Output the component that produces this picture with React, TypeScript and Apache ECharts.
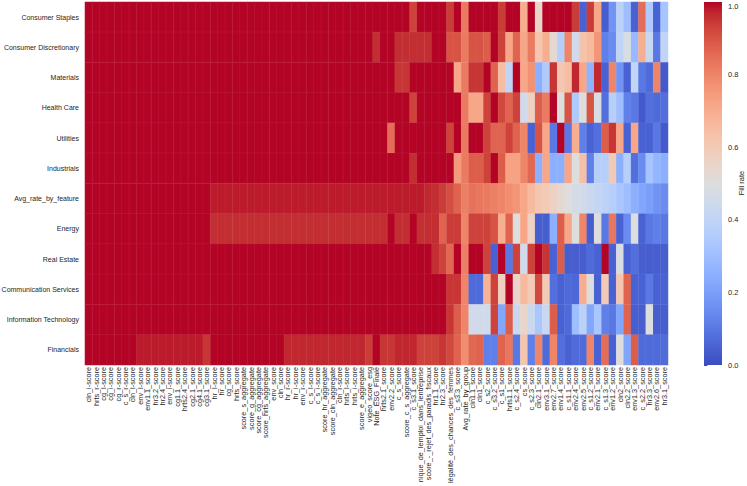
import React, { useEffect, useRef } from "react";
import * as echarts from "echarts";

const features = [
  "cln_i-score", "hrts_r-score", "cg_l-score", "cg_i-score", "cg_r-score", "c_s_r-score", "cln_l-score", "env_l-score", "env1.1_score", "hr3.2_score",
  "hr2.4_score", "env_i-score", "cg1.1_score", "hrts2.4_score", "cg2.1_score", "cg4.1_score", "cg3.1_score", "hr_l-score", "hr_score", "cg_score",
  "hrts_score", "score_s_aggregate", "score_g_aggregate", "score_cg_aggregate", "score_hrts_aggregate", "env_score", "cln_score", "hr_r-score", "hr_i-score", "env_r-score",
  "c_s_l-score", "c_s_i-score", "score_hr_aggregate", "score_cln_aggregate", "cln_r-score", "hrts_l-score", "hrts_i-score", "score_e_aggregate", "vigeo_score_esg", "Note_ESG_Finale",
  "hrts2.1_score", "env2.2_score", "c_s_score", "score_c_s_aggregate", "c_s3.1_score", "nique_de_lemploi_dans_lentreprise", "score_-_rejet_des_paradis_fiscaux", "hr1.1_score", "hr2.3_score", "légalité_des_chances_des_femmes",
  "c_s3.3_score", "Avg_rate_by_group", "cln1.1_score", "cln1_score", "c_s2_score", "c_s3.2_score", "c_s1_score", "hrts1.1_score", "c_s2.4_score", "cs_score",
  "c_s2.3_score", "cln2.1_score", "env3.1_score", "env2.7_score", "env1.4_score", "c_s1.1_score", "env2.4_score", "env2.5_score", "c_s1.2_score", "env2.1_score",
  "c_s1.3_score", "env1.2_score", "cln2_score", "cln2.2_score", "env1.3_score", "c_s2.2_score", "hr3.3_score", "env2.6_score", "hr3.1_score",
];

const sectors = [
  "Consumer Staples", "Consumer Discretionary", "Materials", "Health Care", "Utilities", "Industrials",
  "Avg_rate_by_feature", "Energy", "Real Estate", "Communication Services", "Information Technology", "Financials",
];

const consumerStaples = [
  1,1,1,1,1,1,1,1,1,1,
  1,1,1,1,1,1,1,1,1,1,
  1,1,1,1,1,1,1,1,1,1,
  1,1,1,1,1,1,1,1,1,1,
  1,1,1,1,0.93,1,1,1,1,0.94,
  1,0.82,1,1,1,1,0.94,1,1,0.7,
  1,0.55,1,1,1,1,0.94,0.05,0.94,0.72,
  0.04,0.17,0.38,0.3,0.05,0.85,0.35,0.05,0.32,
];
const consumerDiscretionary = [
  1,1,1,1,1,1,1,1,1,1,
  1,1,1,1,1,1,1,1,1,1,
  1,1,1,1,1,1,1,1,1,1,
  1,1,1,1,1,1,1,1,1,0.96,
  1,1,0.96,0.96,0.96,0.96,0.96,1,1,0.9,
  0.9,0.82,0.9,0.9,0.88,1,0.93,0.72,0.87,0.72,
  0.82,0.62,0.7,0.53,0.37,0.8,0.45,0.63,0.66,0.76,
  0.12,0.15,0.4,0.48,0.28,0.7,0.42,0.1,0.4,
];
const materials = [
  1,1,1,1,1,1,1,1,1,1,
  1,1,1,1,1,1,1,1,1,1,
  1,1,1,1,1,1,1,1,1,1,
  1,1,1,1,1,1,1,1,1,1,
  1,1,0.95,0.95,1,1,1,1,1,1,
  0.72,0.82,0.95,0.95,1,0.87,0.65,0.4,1,0.72,
  0.77,0.25,0.35,0.95,0.62,0.65,0.97,0.72,0.26,0.97,
  0.05,0.8,0.17,0.05,0.4,0.1,0.07,0.8,0.03,
];
const healthCare = [
  1,1,1,1,1,1,1,1,1,1,
  1,1,1,1,1,1,1,1,1,1,
  1,1,1,1,1,1,1,1,1,1,
  1,1,1,1,1,1,1,1,1,1,
  1,1,1,1,0.93,1,1,1,1,1,
  1,0.82,0.72,0.72,0.93,1,0.92,0.87,0.93,0.45,
  0.57,0.88,0.82,1,0.5,0.9,0.35,0.5,0.9,0.48,
  0.08,0.37,0.3,0.12,0.1,0.03,0.08,0.07,0.08,
];
const utilities = [
  1,1,1,1,1,1,1,1,1,1,
  1,1,1,1,1,1,1,1,1,1,
  1,1,1,1,1,1,1,1,1,1,
  1,1,1,1,1,1,1,1,1,1,
  1,0.85,1,1,1,1,1,1,1,0.93,
  1,0.82,1,1,0.93,0.87,0.87,0.93,0.87,0.8,
  0.05,0.9,0.72,0.1,1,0.1,0.7,0.12,0.05,0.08,
  0.88,0.95,0.72,0.05,0.72,0.05,0.05,0.1,0.03,
];
const industrials = [
  1,1,1,1,1,1,1,1,1,1,
  1,1,1,1,1,1,1,1,1,1,
  1,1,1,1,1,1,1,1,1,1,
  1,1,1,1,1,1,1,1,1,1,
  1,1,1,1,0.96,1,1,1,1,1,
  0.75,0.82,0.88,0.88,0.93,1,0.88,0.73,0.73,0.8,
  0.86,0.25,0.72,0.25,0.25,0.72,0.5,0.64,0.12,0.37,
  0.37,0.6,0.25,0.37,0.08,0.15,0.32,0.27,0.25,
];
const avgRateByFeature = [
  1,1,1,1,1,1,1,1,1,1,
  1,1,1,1,1,1,1,0.98,0.98,0.98,
  0.98,0.98,0.98,0.98,0.98,0.98,0.98,0.98,0.98,0.98,
  0.98,0.98,0.98,0.98,0.98,0.98,0.98,0.98,0.98,0.98,
  0.98,0.98,0.98,0.98,0.98,0.98,0.97,0.96,0.94,0.91,
  0.87,0.81,0.84,0.83,0.82,0.81,0.8,0.78,0.76,0.72,
  0.66,0.62,0.6,0.57,0.53,0.5,0.47,0.45,0.43,0.41,
  0.39,0.37,0.33,0.3,0.25,0.22,0.2,0.17,0.15,
];
const energy = [
  1,1,1,1,1,1,1,1,1,1,
  1,1,1,1,1,1,1,0.96,0.96,0.96,
  0.96,0.96,0.96,0.96,0.96,0.96,0.96,0.96,0.96,0.96,
  0.96,0.96,0.96,0.96,0.96,0.96,0.96,0.96,0.96,0.96,
  0.96,1,0.96,0.96,1,0.96,0.96,0.96,0.87,0.94,
  0.94,0.8,0.93,0.93,0.93,0.9,0.7,0.87,0.5,0.72,
  0.57,0.04,0.04,0.25,0.88,0.72,0.5,0.8,0.04,0.5,
  0.1,0.83,0.05,0.15,0.5,0.05,0.1,0.12,0.1,
];
const realEstate = [
  1,1,1,1,1,1,1,1,1,1,
  1,1,1,1,1,1,1,1,1,1,
  1,1,1,1,1,1,1,1,1,1,
  1,1,1,1,1,1,1,1,1,1,
  1,1,1,1,1,1,1,0.96,0.93,0.86,
  1,0.81,1,1,0.93,0.05,1,0.1,0.93,0.45,
  0.93,1,0.95,0.05,0.88,0.04,0.04,0.04,0.07,0.05,
  1,0.05,0.48,0.05,0.08,0.04,0.04,0.04,0.04,
];
const communicationServices = [
  1,1,1,1,1,1,1,1,1,1,
  1,1,1,1,1,1,1,1,1,1,
  1,1,1,1,1,1,1,1,1,1,
  1,1,1,1,1,1,1,1,1,1,
  1,1,1,1,1,1,1,1,1,0.95,
  0.95,0.8,0.07,0.07,0.68,0.93,0.58,1,0.55,0.66,
  0.6,0.92,0.6,0.08,0.05,0.07,0.06,0.7,0.5,0.05,
  0.6,0.05,0.62,0.87,0.05,0.05,0.1,0.05,0.05,
];
const informationTechnology = [
  1,1,1,1,1,1,1,1,1,1,
  1,1,1,1,1,1,1,1,1,1,
  1,1,1,1,1,1,1,1,1,1,
  1,1,1,1,1,1,1,1,1,1,
  1,1,1,1,1,1,1,1,1,0.95,
  0.88,0.8,0.45,0.45,0.45,0.93,0.22,0.88,0.43,0.55,
  0.43,0.33,0.43,0.88,0.05,0.07,0.3,0.38,0.22,0.33,
  0.12,0.1,0.22,0.87,0.04,0.04,0.5,0.04,0.04,
];
const financials = [
  1,1,1,1,1,1,1,0.98,0.98,0.98,
  0.98,0.98,0.98,0.98,0.98,0.98,0.95,1,1,1,
  1,1,1,1,1,1,1,0.97,0.97,0.97,
  0.97,0.97,0.97,0.97,0.97,0.97,0.97,0.97,0.94,1,
  0.95,0.95,0.97,0.97,0.97,0.93,0.93,0.93,0.95,0.92,
  0.87,0.78,0.86,0.87,0.12,0.12,0.87,0.83,0.1,0.62,
  0.12,0.8,0.07,0.8,0.08,0.05,0.07,0.07,0.8,0.05,
  0.85,0.05,0.5,0.22,0.88,0.07,0.07,0.07,0.07,
];

const rowValues = [
  consumerStaples, consumerDiscretionary, materials, healthCare, utilities, industrials,
  avgRateByFeature, energy, realEstate, communicationServices, informationTechnology, financials,
];

const colorbarTicks = [0, 0.2, 0.4, 0.6, 0.8, 1.0];
const colorbarTitle = "Fill rate";

const coolwarm = [
  "#3b4cc0", "#445acc", "#4d68d7", "#5775e1", "#6282ea", "#6c8ff1", "#779af7", "#82a6fb",
  "#8db0fe", "#98b9ff", "#a3c2ff", "#aec9fd", "#b8d0f9", "#c2d5f4", "#ccd9ee", "#d5dbe6",
  "#dddddd", "#e5d8d1", "#ecd3c5", "#f1ccb8", "#f5c4ad", "#f7bba0", "#f7b194", "#f7a688",
  "#f49a7b", "#f18d6f", "#ec7f63", "#e5705a", "#de604d", "#d55042", "#cb3e38", "#c0282f",
  "#b40426",
];

const FONT = "'Liberation Sans', Arial, Helvetica, sans-serif";
const TXT = "#262626";

export default function App() {
  const ref = useRef<HTMLDivElement>(null);

  useEffect(() => {
    document.body.style.margin = "0";
    if (!ref.current) return;
    const chart = echarts.init(ref.current, null, { renderer: "svg" });

    const data: [number, number, number][] = [];
    rowValues.forEach((row, r) => {
      row.forEach((v, c) => data.push([c, r, v]));
    });

    const stops = coolwarm.map((color, i) => ({ offset: i / (coolwarm.length - 1), color }));

    chart.setOption({
      animation: false,
      textStyle: { fontFamily: FONT },
      grid: [
        { left: 85, top: 2, width: 583, height: 363, containLabel: false, outerBoundsMode: "none" },
        { left: 704, top: 2, width: 18, height: 363, containLabel: false, outerBoundsMode: "none" },
      ],
      xAxis: [
        {
          type: "category",
          gridIndex: 0,
          data: features,
          position: "bottom",
          axisLine: { show: false },
          axisTick: { show: false },
          splitLine: { show: false },
          axisLabel: {
            interval: 0,
            rotate: 90,
            fontSize: 7.3,
            color: TXT,
            margin: 2,
            fontFamily: FONT,
          },
        },
        { type: "value", gridIndex: 1, show: false, min: 0, max: 1 },
      ],
      yAxis: [
        {
          type: "category",
          gridIndex: 0,
          data: sectors,
          inverse: true,
          axisLine: { show: false },
          axisTick: { show: false },
          splitLine: { show: false },
          axisLabel: { fontSize: 7, color: TXT, margin: 6, fontFamily: FONT },
        },
        {
          type: "value",
          gridIndex: 1,
          position: "right",
          min: 0,
          max: 1,
          interval: 0.2,
          axisLine: { show: false },
          axisTick: { show: true, length: 3.5, lineStyle: { color: TXT, width: 0.8 } },
          splitLine: { show: false },
          axisLabel: {
            fontSize: 7.5,
            color: TXT,
            margin: 6,
            fontFamily: FONT,
            verticalAlignMaxLabel: "top",
            formatter: (v: number) => (colorbarTicks.includes(v) ? v.toFixed(1) : ""),
          },
        },
      ],
      visualMap: {
        type: "continuous",
        show: false,
        min: 0,
        max: 1,
        seriesIndex: 0,
        inRange: { color: coolwarm },
      },
      graphic: [
        {
          type: "rect",
          shape: { x: 704, y: 2, width: 18, height: 363 },
          style: {
            fill: new echarts.graphic.LinearGradient(0, 1, 0, 0, stops),
          },
          z: 1,
        },
        {
          type: "text",
          x: 741,
          y: 183,
          rotation: Math.PI / 2,
          style: {
            text: colorbarTitle,
            fontSize: 7.5,
            fontFamily: FONT,
            fill: TXT,
            align: "center",
            verticalAlign: "middle",
          },
          z: 2,
        },
      ],
      series: [
        {
          type: "heatmap",
          xAxisIndex: 0,
          yAxisIndex: 0,
          data,
          itemStyle: { borderColor: "rgba(255,255,255,0.12)", borderWidth: 0.4 },
          emphasis: { disabled: true },
          progressive: 0,
        },
      ],
    });

    return () => chart.dispose();
  }, []);

  return (
    <div
      ref={ref}
      style={{ position: "fixed", left: 0, top: 0, width: 747, height: 486, background: "#fff" }}
    />
  );
}
